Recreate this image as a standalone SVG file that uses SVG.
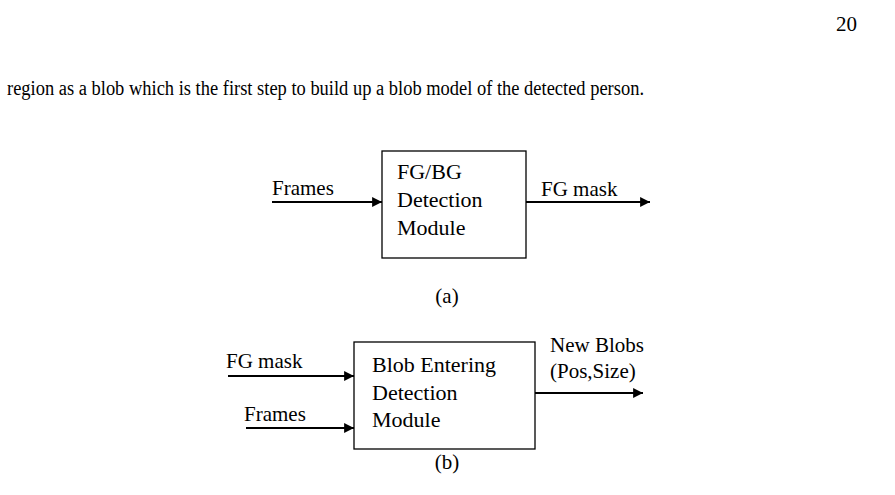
<svg xmlns="http://www.w3.org/2000/svg" width="895" height="495" viewBox="0 0 895 495">
<style>
text{font-family:"Liberation Serif","Times New Roman",serif;font-size:21px;fill:#000}
.bt{font-size:22px}
.box{fill:#fff;stroke:#000;stroke-width:1.3}
.ln{stroke:#000;stroke-width:1.8;fill:none;marker-end:url(#ah)}
</style>
<defs>
<marker id="ah" viewBox="0 0 10 10" refX="10" refY="5" markerWidth="6.5" markerHeight="5.5" orient="auto" markerUnits="strokeWidth">
<path d="M0,0 L10,5 L0,10 z" fill="#000"/>
</marker>
</defs>
<rect width="895" height="495" fill="#fff"/>
<text x="836" y="31">20</text>
<text x="7" y="95" textLength="637" lengthAdjust="spacingAndGlyphs" style="font-size:20px">region as a blob which is the first step to build up a blob model of the detected person.</text>
<g id="connectors">
<line class="ln" x1="272" y1="202" x2="382" y2="202"/>
<line class="ln" x1="526" y1="202" x2="650" y2="202"/>
<line class="ln" x1="228" y1="376" x2="354" y2="376"/>
<line class="ln" x1="246" y1="428" x2="354" y2="428"/>
<line class="ln" x1="535" y1="393" x2="643" y2="393"/>
</g>
<g id="nodeA">
<rect class="box" x="382" y="151" width="144" height="107"/>
<text class="bt" x="397" y="179">FG/BG</text>
<text class="bt" x="397" y="207">Detection</text>
<text class="bt" x="397" y="235">Module</text>
</g>
<g id="nodeB">
<rect class="box" x="354" y="342" width="181" height="107"/>
<text class="bt" x="372" y="372">Blob Entering</text>
<text class="bt" x="372" y="400">Detection</text>
<text class="bt" x="372" y="427">Module</text>
</g>
<g id="labels">
<text x="272" y="195">Frames</text>
<text x="541" y="196">FG mask</text>
<text x="447" y="303" text-anchor="middle">(a)</text>
<text x="226" y="368">FG mask</text>
<text x="244" y="421">Frames</text>
<text x="550" y="352">New Blobs</text>
<text x="550" y="378">(Pos,Size)</text>
<text x="447" y="469" text-anchor="middle">(b)</text>
</g>
</svg>
